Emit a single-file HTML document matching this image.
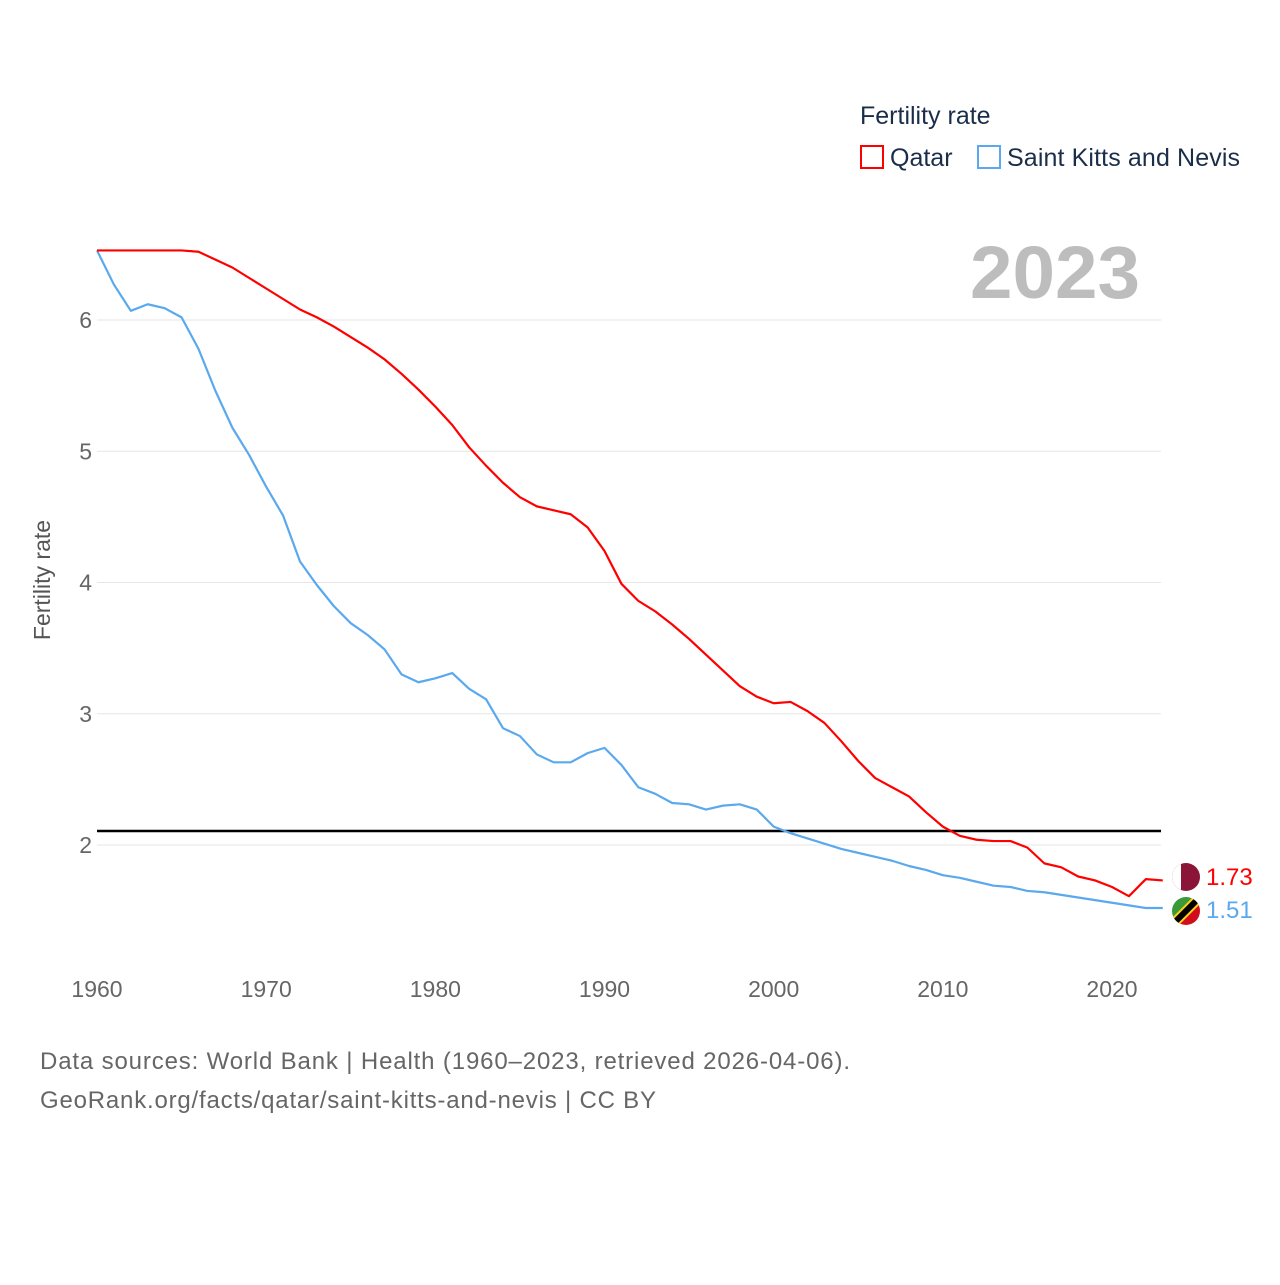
<!DOCTYPE html>
<html><head><meta charset="utf-8"><style>
body{margin:0;background:#fff;font-family:"Liberation Sans",sans-serif;}
svg text{font-family:"Liberation Sans",sans-serif;}
</style></head><body>
<svg width="1280" height="1280" viewBox="0 0 1280 1280">
<text x="860" y="124" font-size="25" fill="#1a2e4a">Fertility rate</text>
<g><rect x="861" y="146" width="22" height="22" fill="none" stroke="#f00" stroke-width="2"/><text x="890" y="166" font-size="25" fill="#1a2e4a">Qatar</text></g>
<g><rect x="978" y="146" width="22" height="22" fill="none" stroke="#5aa9ee" stroke-width="2"/><text x="1007" y="166" font-size="25" fill="#1a2e4a" textLength="233">Saint Kitts and Nevis</text></g>
<text x="970" y="298" font-size="74" font-weight="bold" fill="#bdbdbd" textLength="170" lengthAdjust="spacingAndGlyphs">2023</text>
<g id="grid"></g><g id="yt"></g><g id="xt"></g>
<text transform="translate(50,580) rotate(-90)" font-size="23" fill="#555" text-anchor="middle">Fertility rate</text>
<line x1="97" x2="1161" y1="831" y2="831" stroke="#000" stroke-width="2.5"/>
<g id="series"></g>
<g><clipPath id="cq"><circle cx="1186" cy="877" r="14"/></clipPath><g clip-path="url(#cq)"><rect x="1172" y="863" width="28" height="28" fill="#8a1538"/><rect x="1172" y="863" width="9" height="28" fill="#fff"/></g></g>
<g><clipPath id="cs"><circle cx="1186" cy="911" r="14"/></clipPath><g clip-path="url(#cs)"><polygon points="1172,897 1200,897 1172,925" fill="#3a9a3a"/><polygon points="1200,897 1200,925 1172,925" fill="#d10d1d"/><line x1="1200" y1="897" x2="1172" y2="925" stroke="#fcd116" stroke-width="10"/><line x1="1200" y1="897" x2="1172" y2="925" stroke="#000" stroke-width="6"/></g></g>
<text x="1206" y="885" font-size="24" fill="#f00">1.73</text>
<text x="1206" y="918" font-size="24" fill="#5aa9ee">1.51</text>
<text x="40" y="1069" font-size="24" fill="#666" textLength="810">Data sources: World Bank | Health (1960–2023, retrieved 2026-04-06).</text>
<text x="40" y="1108" font-size="24" fill="#666" textLength="616">GeoRank.org/facts/qatar/saint-kitts-and-nevis | CC BY</text>
</svg>
<script>
const years=[];for(let y=1960;y<=2023;y++)years.push(y);
const qatar=[6.53,6.53,6.53,6.53,6.53,6.53,6.52,6.46,6.40,6.32,6.24,6.16,6.08,6.02,5.95,5.87,5.79,5.70,5.59,5.47,5.34,5.20,5.03,4.89,4.76,4.65,4.58,4.55,4.52,4.42,4.24,3.99,3.86,3.78,3.68,3.57,3.45,3.33,3.21,3.13,3.08,3.09,3.02,2.93,2.79,2.64,2.51,2.44,2.37,2.25,2.14,2.07,2.04,2.03,2.03,1.98,1.86,1.83,1.76,1.73,1.68,1.61,1.74,1.73];
const skn=[6.53,6.27,6.07,6.12,6.09,6.02,5.78,5.46,5.18,4.97,4.73,4.51,4.16,3.98,3.82,3.69,3.60,3.49,3.30,3.24,3.27,3.31,3.19,3.11,2.89,2.83,2.69,2.63,2.63,2.70,2.74,2.61,2.44,2.39,2.32,2.31,2.27,2.30,2.31,2.27,2.14,2.09,2.05,2.01,1.97,1.94,1.91,1.88,1.84,1.81,1.77,1.75,1.72,1.69,1.68,1.65,1.64,1.62,1.60,1.58,1.56,1.54,1.52,1.52];
const yTicks=[2,3,4,5,6];
const xTicks=[1960,1970,1980,1990,2000,2010,2020];
const NS="http://www.w3.org/2000/svg";
const X=v=>97+(v-1960)*16.917, Y=v=>845-(v-2)*131.25;
const g=document.getElementById('grid'),yt=document.getElementById('yt'),xt=document.getElementById('xt'),s=document.getElementById('series');
yTicks.forEach(t=>{
 const l=document.createElementNS(NS,'line');
 
 
 l.setAttribute('x1',97);l.setAttribute('x2',1161);l.setAttribute('y1',Y(t));l.setAttribute('y2',Y(t));l.setAttribute('stroke','#e6e6e6');g.appendChild(l);
 const tx=document.createElementNS(NS,'text');
 
 
 tx.setAttribute('x',92);tx.setAttribute('y',Y(t)+8);tx.setAttribute('text-anchor','end');tx.setAttribute('font-size','23');tx.setAttribute('fill','#666');tx.textContent=t;yt.appendChild(tx);
});
xTicks.forEach(t=>{
 const tx=document.createElementNS(NS,'text');
 
 
 tx.setAttribute('x',X(t));tx.setAttribute('y',997);tx.setAttribute('text-anchor','middle');tx.setAttribute('font-size','23');tx.setAttribute('fill','#666');tx.textContent=t;xt.appendChild(tx);
});
function line(data,color,name){
 const p=document.createElementNS(NS,'polyline');
 
 
 p.setAttribute('points',data.map((v,i)=>X(years[i])+','+Y(v)).join(' '));
 p.setAttribute('fill','none');p.setAttribute('stroke',color);p.setAttribute('stroke-width','2.2');p.setAttribute('stroke-linejoin','round');s.appendChild(p);
}
line(skn,'#5aa9ee','line-skn');
line(qatar,'#f00','line-qatar');
</script>
</body></html>
